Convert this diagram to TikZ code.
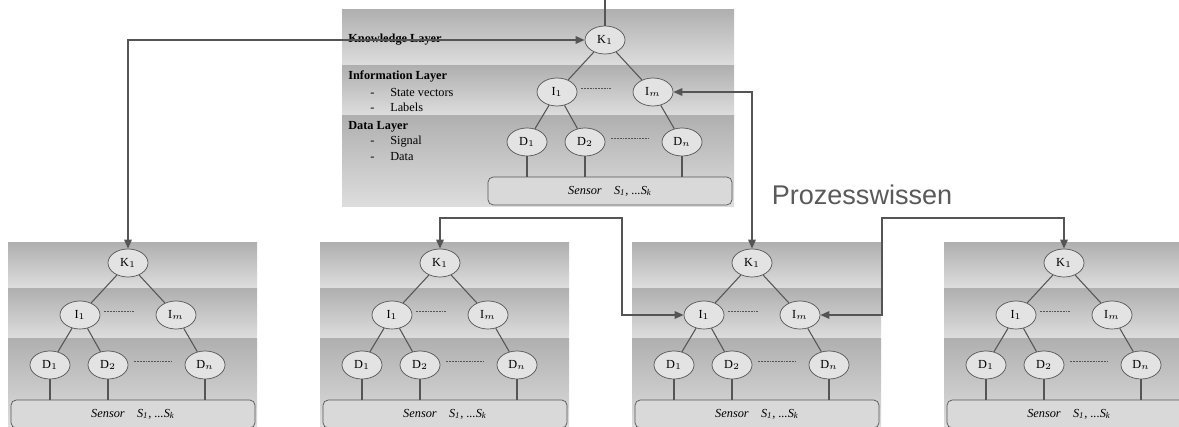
\documentclass[tikz,border=0pt]{standalone}
\usepackage{fontspec}
\setmainfont{Liberation Serif}
\newfontfamily\prozessfont{Liberation Sans}
\usetikzlibrary{arrows.meta,shapes.geometric,calc}

\definecolor{linegray}{HTML}{555555}
\definecolor{textgray}{HTML}{5A5A5A}

% one layer panel: name, left x, K x, K y, top y
\newcommand{\layerpanel}[5]{%
  % layer bands
  \shade[band] (#2,#5) rectangle ({#3+129},{#4+26});
  \shade[band] (#2,{#4+26}) rectangle ({#3+129},{#4+76});
  \shade[band] (#2,{#4+76}) rectangle ({#3+129},{#4+167});
  % tree
  \node[knot] (#1k) at (#3,#4) {K$_1$};
  \node[knot] (#1i1) at ({#3-48},{#4+52}) {I$_1$};
  \node[knot] (#1im) at ({#3+48},{#4+52}) {I$_m$};
  \node[knot] (#1d1) at ({#3-78},{#4+102}) {D$_1$};
  \node[knot] (#1d2) at ({#3-20},{#4+102}) {D$_2$};
  \node[knot] (#1dn) at ({#3+77},{#4+102}) {D$_n$};
  \node[sensorbox] (#1s) at ({#3+5},{#4+151}) {Sensor\quad S\textsubscript{1}, ...S\textsubscript{k}};
  \draw[edge] (#1k) -- (#1i1);
  \draw[edge] (#1k) -- (#1im);
  \draw[edge] (#1i1) -- (#1d1);
  \draw[edge] (#1i1) -- (#1d2);
  \draw[edge] (#1im) -- (#1dn);
  \draw[edge] (#1d1.south) -- (#1d1.south |- #1s.north);
  \draw[edge] (#1d2.south) -- (#1d2.south |- #1s.north);
  \draw[edge] (#1dn.south) -- (#1dn.south |- #1s.north);
  \draw[dots] ($(#1i1.east)+(4,-4)$) -- ++(30,0);
  \draw[dots] ($(#1d2.east)+(6,-4)$) -- ++(38,0);
}

\begin{document}
\begin{tikzpicture}[
  x=0.2mm, y=-0.2mm,
  band/.style={top color=gray!62, bottom color=gray!26, draw=none},
  knot/.style={ellipse, draw=linegray, fill=gray!22, minimum width=8mm, minimum height=5.6mm, inner sep=0pt, font=\scriptsize},
  sensorbox/.style={draw=linegray, fill=gray!30, rounded corners=3pt, minimum width=48.8mm, minimum height=5.6mm, font=\scriptsize\itshape},
  edge/.style={linegray, line width=0.6pt},
  dots/.style={linegray, line width=0.5pt, dash pattern=on 1pt off 0.6pt},
  link/.style={{Triangle[length=1.8mm,width=1.5mm]}-{Triangle[length=1.8mm,width=1.5mm]}, linegray, line width=0.9pt},
  layertitle/.style={font=\scriptsize\bfseries, anchor=west, inner sep=0pt},
  layeritem/.style={font=\scriptsize, anchor=west, inner sep=0pt},
]
\useasboundingbox (0,0) rectangle (1179,427);

% ====== TOP PANEL ======
\layerpanel{t}{342}{605}{40}{10}
\coordinate (tin) at (605,0);
\draw[edge] (tin) -- (tk.north);

% layer labels
\node[layertitle] (know) at (348,40) {Knowledge Layer};
\node[layertitle] (info) at (348,77) {Information Layer};
\node[layeritem] (infoa) at (370,92) {-\hspace{9pt}State vectors};
\node[layeritem] (infob) at (370,107) {-\hspace{9pt}Labels};
\node[layertitle] (data) at (348,127) {Data Layer};
\node[layeritem] (dataa) at (370,142) {-\hspace{9pt}Signal};
\node[layeritem] (datab) at (370,157) {-\hspace{9pt}Data};

% ====== BOTTOM PANELS ======
\layerpanel{a}{8}{128}{263}{243}
\layerpanel{b}{320}{440}{263}{243}
\layerpanel{c}{632}{752}{263}{243}
\layerpanel{d}{944}{1064}{263}{243}

% ====== PROCESS KNOWLEDGE LINKS ======
\node[font=\prozessfont\fontsize{15.4}{18}\selectfont, text=textgray] (wissen) at (862,195) {Prozesswissen};

\coordinate (bendb) at (622,218);
\coordinate (bendd) at (882,218);
\draw[link] (tk.west) -| (ak.north);
\draw[link] (tim.east) -| (ck.north);
\draw[link] (bk.north) |- (bendb) |- (ci1.west);
\draw[link] (cim.east) -| (bendd) -| (dk.north);

\end{tikzpicture}
\end{document}
